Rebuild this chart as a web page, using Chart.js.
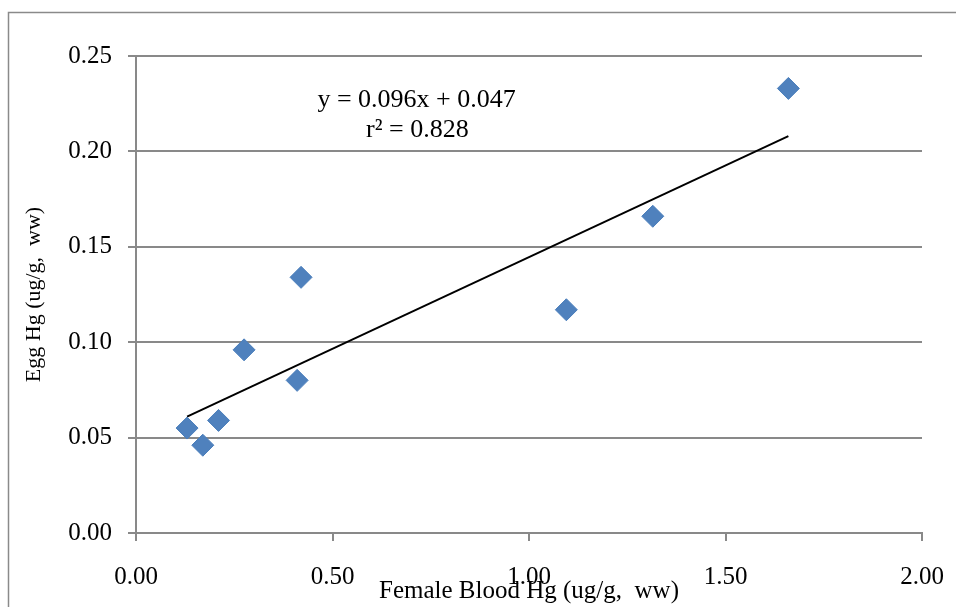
<!DOCTYPE html>
<html>
<head>
<meta charset="utf-8">
<script src="https://cdn.jsdelivr.net/npm/chart.js@4.4.0/dist/chart.umd.min.js"></script>
<style>
  html, body { margin: 0; padding: 0; background: #fff; overflow: hidden; }
  #wrap { width: 956px; height: 620px; }
</style>
</head>
<body>
<div id="wrap"><canvas id="egg"></canvas></div>
<script>
// female blood Hg vs egg Hg (ug/g ww)
const bloodHg = [0.13, 0.17, 0.21, 0.275, 0.41, 0.42, 1.095, 1.315, 1.66];
const eggHg = [0.055, 0.046, 0.059, 0.096, 0.080, 0.134, 0.117, 0.166, 0.233];

// trend line end points
const trendX = [0.13, 1.66];
const trendY = [0.061, 0.208];

const eqLines = ['y = 0.096x + 0.047', 'r\u00b2 = 0.828'];

const serif = '"Liberation Serif", "Times New Roman", serif';
const gridGray = '#898989';

// outer frame + equation text
const framePlugin = {
    id: 'frame',
    beforeDraw(chart) {
        const ctx = chart.ctx;
        ctx.save();
        ctx.strokeStyle = '#8a8a8a';
        ctx.lineWidth = 1.5;
        ctx.strokeRect(8.5, 12.5, 1200, 1200);
        ctx.restore();
    },
    afterDatasetsDraw(chart) {
        const ctx = chart.ctx;
        const xs = chart.scales.x, ys = chart.scales.y;
        ctx.save();
        ctx.fillStyle = '#000';
        ctx.font = '26px ' + serif;
        ctx.textAlign = 'center';
        ctx.textBaseline = 'middle';
        ctx.fillText(eqLines[0], xs.getPixelForValue(0.714), ys.getPixelForValue(0.227));
        ctx.fillText(eqLines[1], xs.getPixelForValue(0.716), ys.getPixelForValue(0.211));
        ctx.restore();
    }
};

const points = bloodHg.map((x, i) => ({ x: x, y: eggHg[i] }));
const trend = trendX.map((x, i) => ({ x: x, y: trendY[i] }));

new Chart(document.getElementById('egg'), {
    type: 'scatter',
    data: {
        datasets: [{
            label: 'Egg Hg',
            data: points,
            pointStyle: 'rectRot',
            pointRadius: 11,
            pointHoverRadius: 11,
            backgroundColor: '#4F81BD',
            borderColor: '#4A7EBB',
            borderWidth: 1
        }, {
            type: 'line',
            label: 'Trend',
            data: trend,
            borderColor: '#000',
            borderWidth: 2,
            pointRadius: 0,
            fill: false
        }]
    },
    options: {
        responsive: true,
        maintainAspectRatio: false,
        animation: false,
        layout: { padding: { top: 56, right: 34, bottom: 0, left: 0 } },
        plugins: {
            legend: { display: false },
            tooltip: { enabled: false }
        },
        scales: {
            x: {
                type: 'linear',
                min: 0,
                max: 2,
                afterFit(scale) {
                    scale.height = 87;
                    scale.paddingLeft = 0;
                    scale.paddingRight = 0;
                },
                ticks: {
                    stepSize: 0.5,
                    color: '#000',
                    padding: 21,
                    font: { family: serif, size: 25 },
                    callback: v => v.toFixed(2)
                },
                grid: {
                    drawOnChartArea: false,
                    drawTicks: true,
                    tickLength: 8,
                    color: gridGray,
                    lineWidth: 2
                },
                border: { color: gridGray, width: 2 },
                title: {
                    display: true,
                    text: 'Female Blood Hg (ug/g,  ww)',
                    color: '#000',
                    font: { family: serif, size: 25 },
                    padding: { top: 0, bottom: 14 }
                }
            },
            y: {
                min: 0,
                max: 0.25,
                afterFit(scale) { scale.width = 136; },
                ticks: {
                    stepSize: 0.05,
                    color: '#000',
                    padding: 16,
                    font: { family: serif, size: 25 },
                    callback: v => v.toFixed(2)
                },
                grid: {
                    drawTicks: true,
                    tickLength: 8,
                    color: gridGray,
                    lineWidth: 2
                },
                border: { color: gridGray, width: 2 },
                title: {
                    display: true,
                    text: 'Egg Hg (ug/g,  ww)',
                    color: '#000',
                    font: { family: serif, size: 22 },
                    padding: { top: 21, bottom: 0 }
                }
            }
        }
    },
    plugins: [framePlugin]
});
</script>
</body>
</html>
